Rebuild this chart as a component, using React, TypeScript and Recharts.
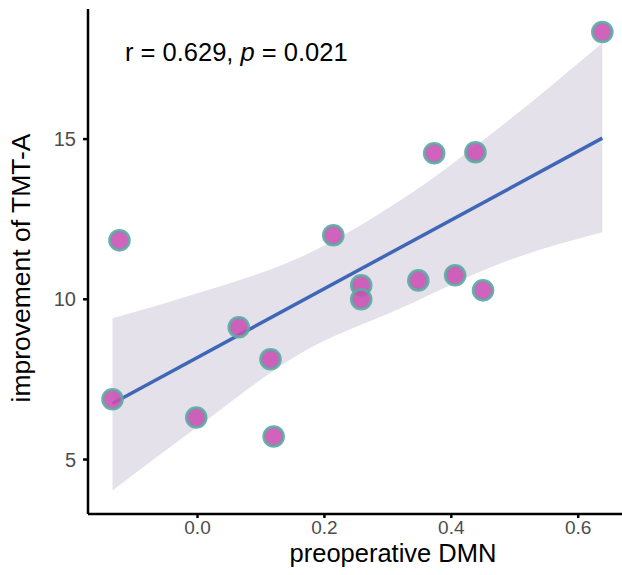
import React from 'react';
import { ComposedChart, Scatter, Line, Area, XAxis, YAxis, Label } from 'recharts';

// preoperative DMN (x) vs improvement of TMT-A (y)
const dmn = [-0.134, -0.123, -0.002, 0.065, 0.115, 0.12, 0.214, 0.258, 0.258, 0.348, 0.373, 0.406, 0.438, 0.45, 0.638];
const tmtA = [6.88, 11.84, 6.31, 9.13, 8.13, 5.72, 12.0, 10.44, 10.0, 10.59, 14.56, 10.75, 14.59, 10.28, 18.34];

// fitted line end points
const fitX = [-0.134, 0.638];
const fitY = [6.75, 15.03];

// confidence band
const bandX = [-0.134, 0.005, 0.162, 0.32, 0.477, 0.638];
const bandLower = [4.03, 6.09, 8.31, 9.72, 11.12, 12.09];
const bandUpper = [9.41, 10.22, 11.31, 13.09, 15.38, 18.0];

const xTicks = [0, 0.2, 0.4, 0.6];
const yTicks = [5, 10, 15];

const points = dmn.map((x, i) => ({ x, y: tmtA[i] }));
const fit = fitX.map((x, i) => ({ x, fit: fitY[i] }));
const band = bandX.map((x, i) => ({ x, band: [bandLower[i], bandUpper[i]] }));

const font = '"Liberation Sans", Arial, sans-serif';

const Dot = (props: any) => (
  <circle
    cx={props.cx}
    cy={props.cy}
    r={9.8}
    fill="#C94FB3"
    fillOpacity={0.88}
    stroke="#5EA9A3"
    strokeOpacity={0.9}
    strokeWidth={3}
  />
);

export default function App() {
  return (
    <div style={{ position: 'absolute', left: 0, top: 0, width: 622, height: 575, background: '#fff', fontFamily: font }}>
      <ComposedChart width={622} height={575} margin={{ top: 9, right: 0, bottom: 0, left: 0 }}>
        <XAxis
          type="number"
          dataKey="x"
          domain={[-0.1726, 0.669]}
          allowDataOverflow
          ticks={xTicks}
          tickFormatter={(v: number) => v.toFixed(1)}
          height={61}
          stroke="#000"
          strokeWidth={2.5}
          tickSize={4}
          tickMargin={3}
          tick={{ fill: '#4D4D4D', fontSize: 19, fontFamily: font }}
        >
          <Label
            content={() => (
              <text x={393} y={562} textAnchor="middle" fontSize={25.5} fill="#000" fontFamily={font}>
                preoperative DMN
              </text>
            )}
          />
        </XAxis>
        <YAxis
          type="number"
          dataKey="y"
          domain={[3.3, 19.06]}
          allowDataOverflow
          ticks={yTicks}
          width={88}
          stroke="#000"
          strokeWidth={2.5}
          tickSize={5}
          tickMargin={7}
          tick={{ fill: '#4D4D4D', fontSize: 20, fontFamily: font }}
        >
          <Label
            content={() => (
              <text
                transform="translate(30,268) rotate(-90)"
                textAnchor="middle"
                fontSize={26.5}
                fill="#000"
                fontFamily={font}
              >
                improvement of TMT-A
              </text>
            )}
          />
        </YAxis>
        <Area
          data={band}
          dataKey="band"
          type="monotone"
          stroke="none"
          fill="#E4E1EA"
          fillOpacity={1}
          isAnimationActive={false}
        />
        <Line
          data={fit}
          dataKey="fit"
          type="linear"
          stroke="#3F67B6"
          strokeWidth={3.5}
          dot={false}
          activeDot={false}
          isAnimationActive={false}
        />
        <Scatter data={points} dataKey="y" shape={Dot} isAnimationActive={false} />
      </ComposedChart>
      <div style={{ position: 'absolute', left: 125, top: 38, fontSize: 25.5, lineHeight: 'normal', color: '#000', whiteSpace: 'nowrap' }}>
        r = 0.629, <i>p</i> = 0.021
      </div>
    </div>
  );
}
